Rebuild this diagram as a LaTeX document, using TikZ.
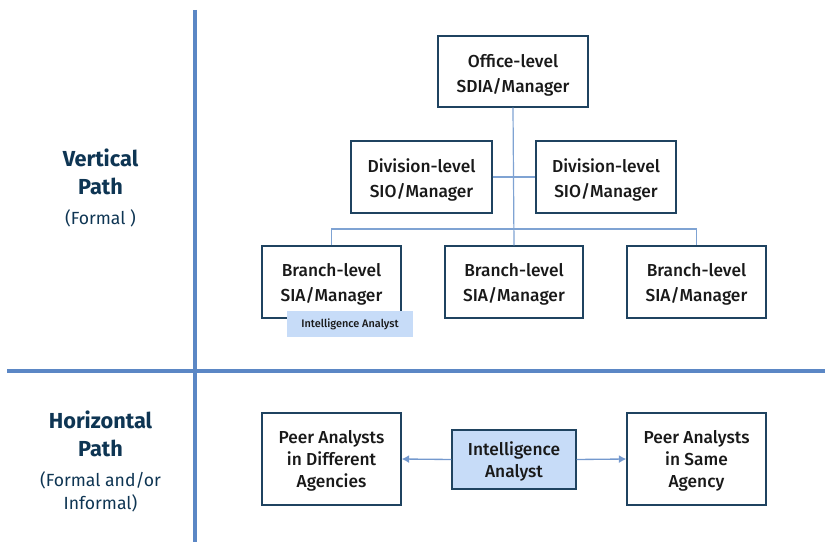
\documentclass[tikz,border=0pt]{standalone}
\usepackage{fontspec}
\setmainfont{Fira Sans}
\newfontfamily\medfont{Fira Sans Medium}
\usetikzlibrary{arrows.meta}
\definecolor{navy}{HTML}{0E3553}
\definecolor{boxline}{HTML}{1F4360}
\definecolor{rule}{HTML}{5B87C5}
\definecolor{link}{HTML}{7FA3D3}
\definecolor{fillblue}{HTML}{C7DCF8}
\begin{document}
\begin{tikzpicture}[x=0.75pt,y=-0.75pt,
  rolebox/.style n args={2}{draw=boxline,line width=1.1pt,fill=white,
    inner sep=0pt,minimum width={#1*0.75pt},minimum height={#2*0.75pt}},
  roletext/.style={text=black!90,font=\medfont\fontsize{13}{18.6}\selectfont,align=center,inner sep=0pt},
  peertext/.style={text=black!90,font=\medfont\fontsize{13}{16.6}\selectfont,align=center,inner sep=0pt},
  pathtitle/.style={text=navy,font=\bfseries\fontsize{16.3}{21}\selectfont,align=center},
  pathnote/.style={text=navy,font=\fontsize{13.2}{17.2}\selectfont,align=center},
  tag/.style={fill=fillblue,minimum width={126*0.75pt},minimum height={26*0.75pt},inner sep=0pt,
    text=black!90,font=\medfont\fontsize{8.2}{10}\selectfont},
  linkline/.style={draw=link,line width=0.9pt},
  arrowline/.style={draw=rule!85!white,line width=1pt,-{Latex[length=5.5pt,width=6pt]}},
  divider/.style={draw=rule,line width=2.3pt}]
\useasboundingbox (0,0) rectangle (825,542);
% quadrant dividers
\draw[divider] (195,10) -- (195,542);
\draw[divider] (7,371) -- (825,371);
% row titles
\node[pathtitle] (vt) at (100.5,172) {Vertical\\Path};
\node[pathnote] (vn) at (100.5,218) {(Formal )};
\node[pathtitle] (ht) at (100.5,434) {Horizontal\\Path};
\node[pathnote] (hn) at (100.5,491.5) {(Formal and/or\\Informal)};
% hierarchy boxes
\node[rolebox={150}{71}] (office) at (513,71.5) {};
\node[rolebox={141}{72}] (divl) at (421.5,177) {};
\node[rolebox={140}{72}] (divr) at (606,177) {};
\node[rolebox={139}{72}] (brl) at (331.5,282) {};
\node[rolebox={138}{72}] (brm) at (514,282) {};
\node[rolebox={139}{72}] (brr) at (696.5,282) {};
\node[roletext] (officet) at ([yshift=-2.6pt]office.center) {Office-level\\SDIA/Manager};
\node[roletext] (divlt) at ([yshift=-2.4pt]divl.center) {Division-level\\SIO/Manager};
\node[roletext] (divrt) at ([yshift=-2.4pt]divr.center) {Division-level\\SIO/Manager};
\node[roletext] (brlt) at ([yshift=-2pt]brl.center) {Branch-level\\SIA/Manager};
\node[roletext] (brmt) at ([yshift=-2pt]brm.center) {Branch-level\\SIA/Manager};
\node[roletext] (brrt) at ([yshift=-2pt]brr.center) {Branch-level\\SIA/Manager};
\node[tag] (ialab) at (350,324) {Intelligence Analyst};
% hierarchy links
\coordinate (bus) at (514,229);
\draw[linkline] (office.south) -- (brm.north);
\draw[linkline] (divl.east) -- (divr.west);
\draw[linkline] (brl.north) |- (bus) -| (brr.north);
% horizontal path
\node[rolebox={139}{92}] (peerd) at (331.5,459) {};
\node[rolebox={124}{59},fill=fillblue] (ia) at (514,459.5) {};
\node[rolebox={139}{92}] (peers) at (696.5,459) {};
\node[peertext] (peerdt) at ([yshift=-1.6pt]peerd.center) {Peer Analysts\\in Different\\Agencies};
\node[peertext] (iat) at ([yshift=-1.8pt]ia.center) {Intelligence\\Analyst};
\node[peertext] (peerst) at ([yshift=-1.6pt]peers.center) {Peer Analysts\\in Same\\Agency};
\draw[arrowline] (ia.west) -- (peerd.east);
\draw[arrowline] (ia.east) -- (peers.west);
\end{tikzpicture}
\end{document}
